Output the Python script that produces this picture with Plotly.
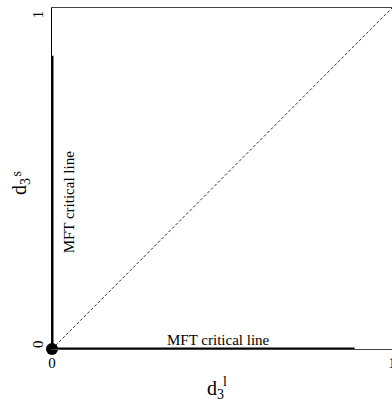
import plotly.graph_objects as go

# Data
tick_vals = [0, 1]
tick_text = ["0", "1"]
ytick_pos = [0.015, 0.982]
diag_x = [0, 1]
diag_y = [0, 1]
vert_line_x = [0, 0]
vert_line_y = [0, 0.86]
horiz_line_x = [0, 0.89]
horiz_line_y = [0, 0]
point_x = [0]
point_y = [0]
label_text = "MFT critical line"

FONT = "Liberation Serif, Times New Roman, serif"

fig = go.Figure()
fig.add_trace(go.Scatter(x=diag_x, y=diag_y, mode="lines",
                         line=dict(color="#333", width=1, dash="3px,2px"),
                         hoverinfo="skip", cliponaxis=False))
fig.add_trace(go.Scatter(x=vert_line_x, y=vert_line_y, mode="lines",
                         line=dict(color="black", width=3), cliponaxis=False))
fig.add_trace(go.Scatter(x=horiz_line_x, y=horiz_line_y, mode="lines",
                         line=dict(color="black", width=3), cliponaxis=False))
fig.add_trace(go.Scatter(x=point_x, y=point_y, mode="markers",
                         marker=dict(color="black", size=12), cliponaxis=False))

annotations = [
    dict(x=0.5, y=-0.075, xref="paper", yref="paper", showarrow=False,
         text="d<sub>3</sub>", font=dict(family=FONT, size=20),
         xanchor="center", yanchor="top", xshift=-7),
    dict(x=0.5, y=-0.075, xref="paper", yref="paper", showarrow=False,
         text="l", font=dict(family=FONT, size=14),
         xanchor="left", yanchor="top", xshift=-1, yshift=3),
    dict(x=-0.05, y=0.5, xref="paper", yref="paper", showarrow=False,
         text="d<sub>3</sub>", font=dict(family=FONT, size=20),
         textangle=-90, xanchor="right", yanchor="middle", yshift=-8),
    dict(x=-0.05, y=0.5, xref="paper", yref="paper", showarrow=False,
         text="s", font=dict(family=FONT, size=14),
         textangle=-90, xanchor="right", yanchor="bottom", xshift=-10, yshift=0),
    dict(x=0.05, y=0.43, xref="x", yref="y", showarrow=False,
         text=label_text, textangle=-90, font=dict(family=FONT, size=15)),
    dict(x=0.49, y=0.025, xref="x", yref="y", showarrow=False,
         text=label_text, font=dict(family=FONT, size=15)),
]
for pos, txt in zip(ytick_pos, tick_text):
    annotations.append(dict(x=0, y=pos, xref="paper", yref="y", showarrow=False,
                            text=txt, textangle=-90, font=dict(family=FONT, size=15),
                            xanchor="center", yanchor="middle", xshift=-14))

fig.update_layout(
    width=402, height=403,
    margin=dict(l=52, r=10, t=8, b=54, autoexpand=False),
    plot_bgcolor="white", paper_bgcolor="white",
    showlegend=False,
    font=dict(family=FONT, size=15, color="black"),
    xaxis=dict(range=[0, 1.0], tickvals=tick_vals, ticktext=tick_text,
               showgrid=False, zeroline=False, showline=True, mirror=True,
               linecolor="#444", linewidth=1, ticks="", ticklen=0,
               automargin=False, tickfont=dict(family=FONT, size=15)),
    yaxis=dict(range=[0, 1], tickvals=tick_vals, showticklabels=False,
               showgrid=False, zeroline=False, showline=True, mirror=False,
               linecolor="black", linewidth=1, ticks="",
               automargin=False),
    annotations=annotations,
)

fig.write_html("out.html", config={"displayModeBar": False},
               post_script="document.body.style.margin='0';document.body.style.overflow='hidden';")
